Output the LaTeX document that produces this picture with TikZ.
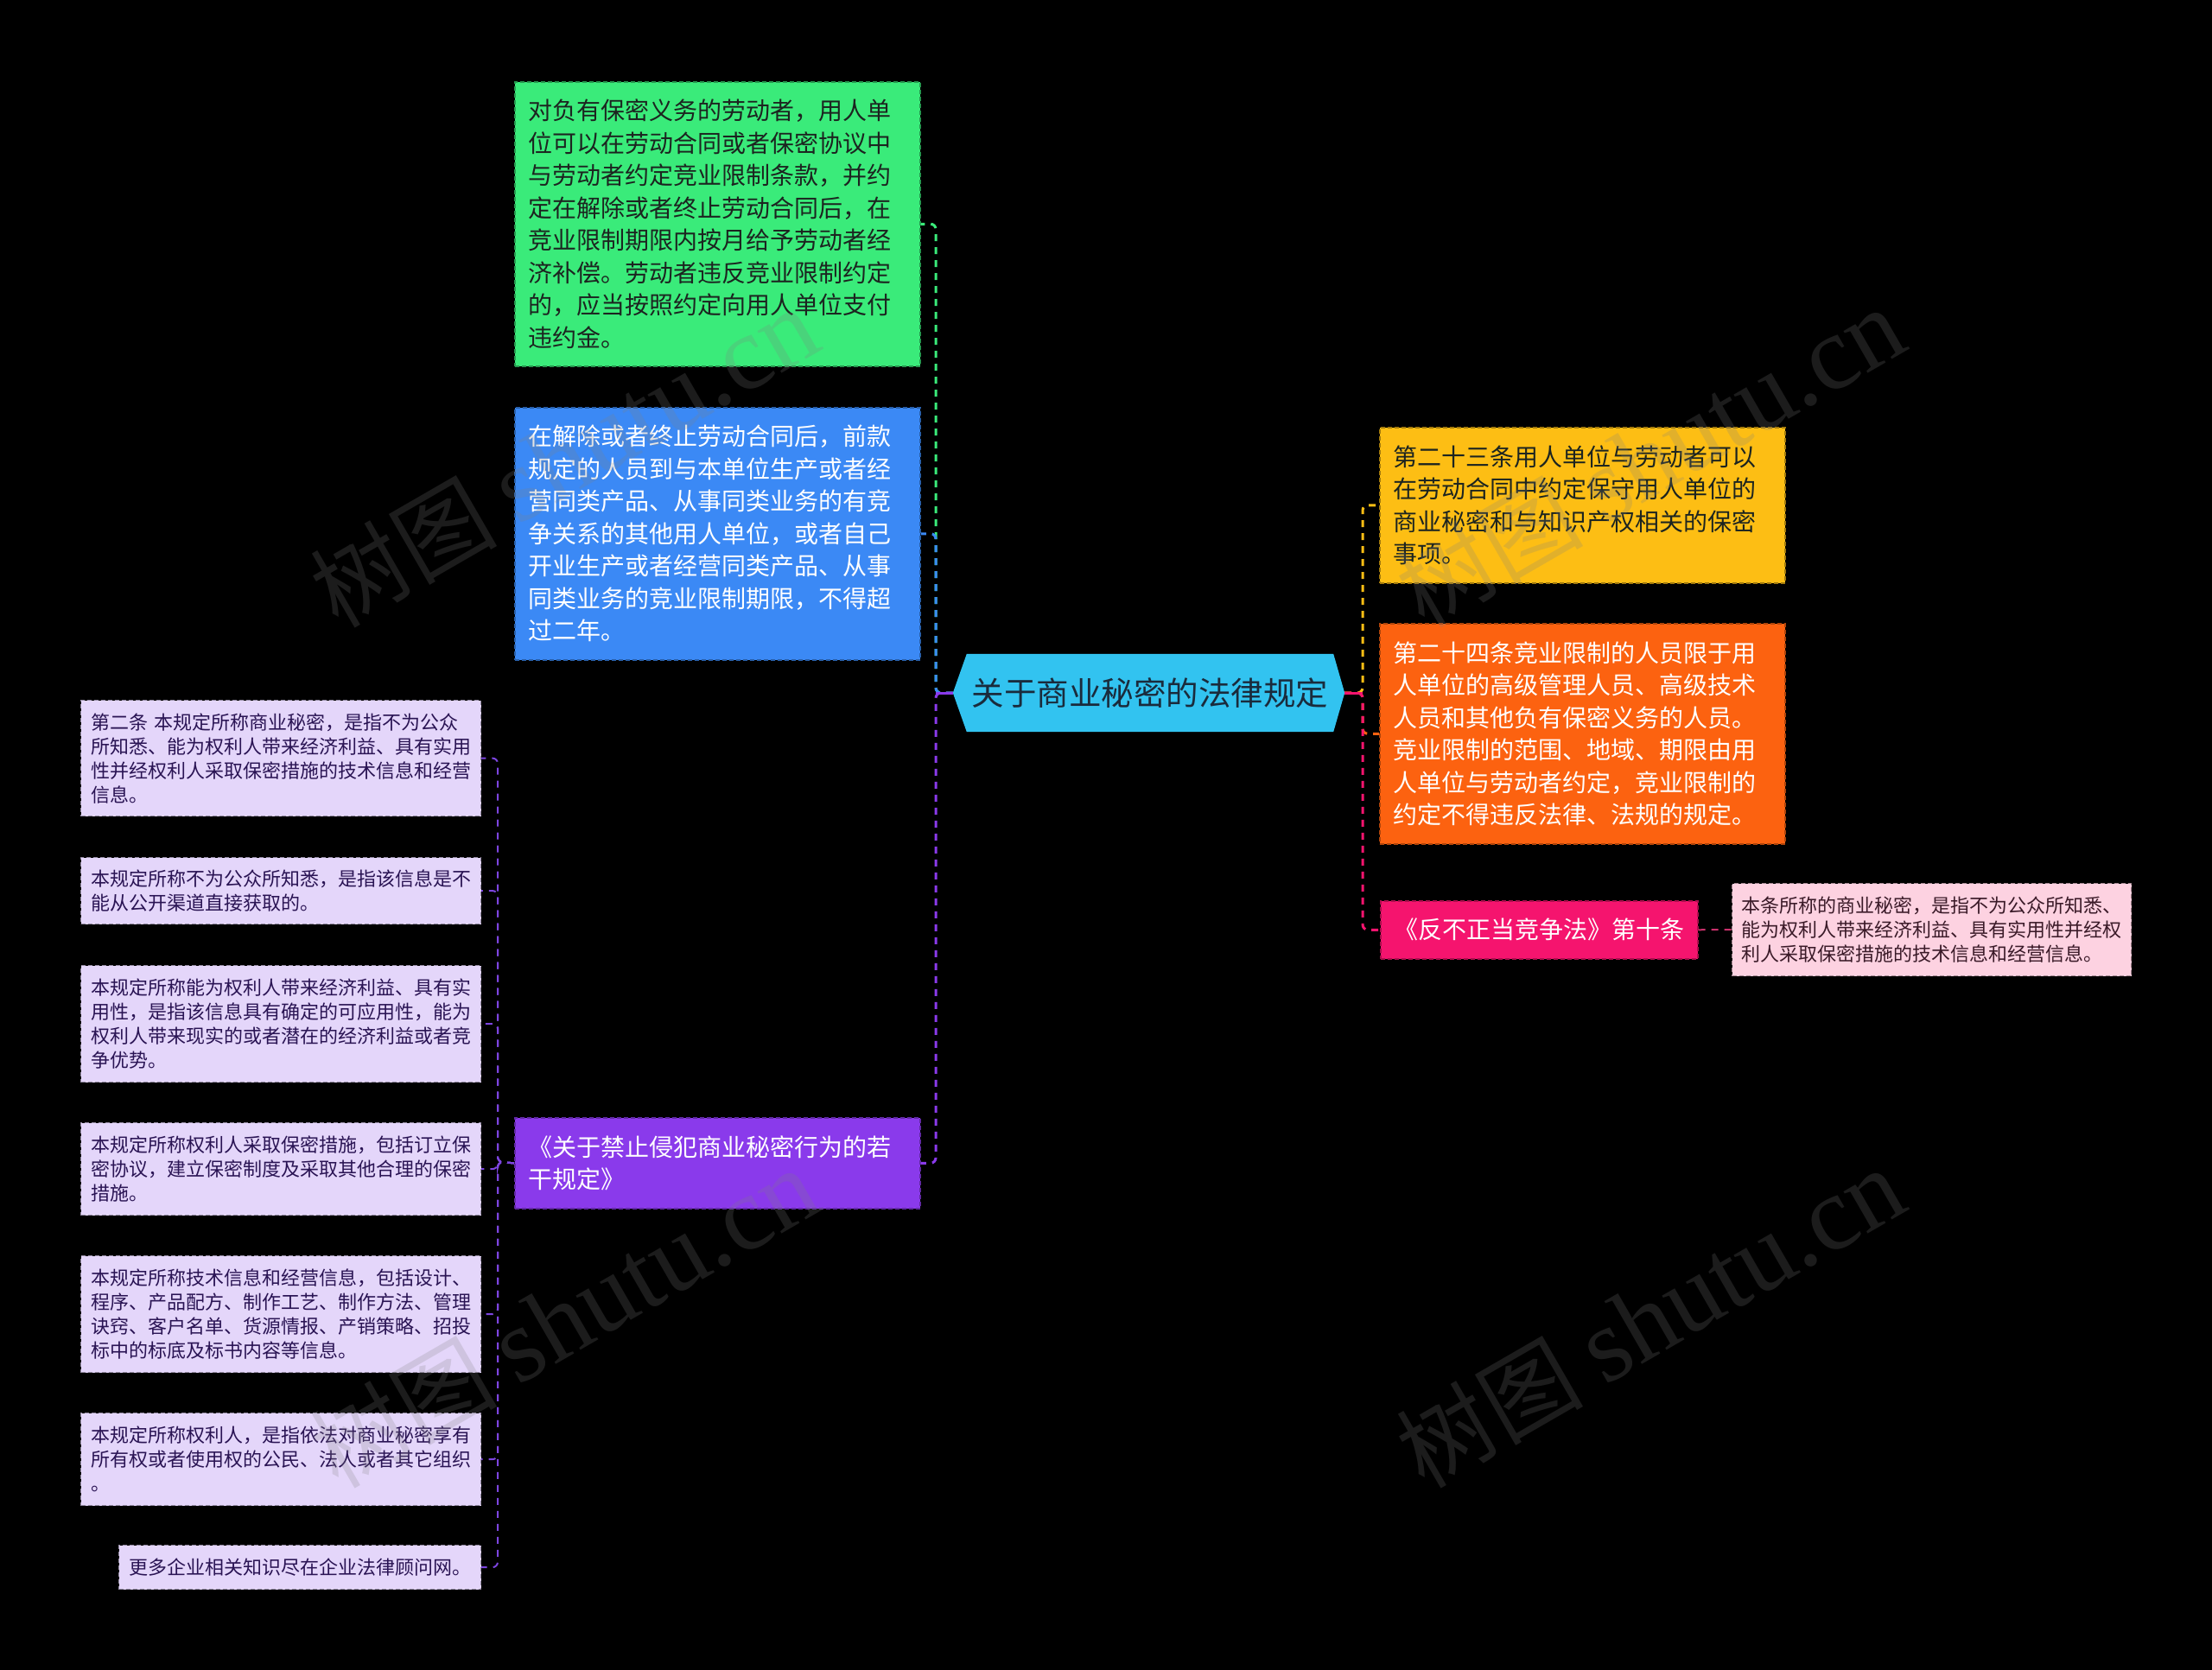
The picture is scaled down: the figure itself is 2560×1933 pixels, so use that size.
\documentclass[tikz,border=0pt]{standalone}
\usepackage{fontspec}
\setmainfont{Noto Sans CJK SC}
\newfontfamily\wmlatin{Liberation Serif}
\usetikzlibrary{calc,backgrounds}
\definecolor{greenc}{HTML}{3AEB7A}
\definecolor{bluec}{HTML}{3B89F5}
\definecolor{centralc}{HTML}{32C3F0}
\definecolor{centraltext}{HTML}{1A2B3C}
\definecolor{yellowc}{HTML}{FDBE14}
\definecolor{orangec}{HTML}{FC6210}
\definecolor{pinkc}{HTML}{F5146E}
\definecolor{lpinkc}{HTML}{FDD2E1}
\definecolor{purplec}{HTML}{8A3AEB}
\definecolor{lavc}{HTML}{E4D6FA}
\definecolor{spinec}{HTML}{7D45E0}
\definecolor{darktext}{HTML}{1C2420}
\definecolor{lavtext}{HTML}{2A1454}
\definecolor{lpinktext}{HTML}{3A1A28}
\definecolor{pinkline}{HTML}{C8306A}
\tikzset{
  lone/.style={anchor=north west, inner xsep=16pt, inner ysep=0pt, align=left,
    text width=437pt, minimum width=469pt,
    font=\fontsize{28}{37.5}\selectfont, line width=1.5pt, dash pattern=on 5pt off 3pt},
  ltwo/.style={anchor=north west, inner xsep=11.5pt, inner ysep=0pt, align=left,
    text width=440pt, minimum width=463pt, fill=lavc, draw=lavc!65!black, text=lavtext,
    font=\fontsize{22}{28}\selectfont, line width=1.2pt, dash pattern=on 5pt off 3pt},
  conn/.style={line width=3pt, dash pattern=on 8pt off 7pt, rounded corners=6pt},
  wmark/.style={rotate=30, text=gray, opacity=0.22, font=\fontsize{108}{108}\selectfont}
}
\begin{document}
\begin{tikzpicture}[x=1pt,y=-1pt]
\useasboundingbox (0,0) rectangle (2560,1933);
\begin{scope}[on background layer]
\fill[black] (0,0) rectangle (2560,1933);
\end{scope}

% central node
\node[font=\fontsize{37.5}{45}\selectfont, text=centraltext, minimum width=424pt, minimum height=90pt, inner sep=0pt] (c) at (1331,802) {关于商业秘密的法律规定};
\coordinate (cL) at ($(c.west)+(-16,0)$);
\coordinate (cR) at ($(c.east)+(13,0)$);
\begin{scope}[on background layer]
\fill[centralc] (cL) -- (c.north west) -- (c.north east) -- (cR) -- (c.south east) -- (c.south west) -- cycle;
\end{scope}

% left level-1 nodes
\node[lone, fill=greenc, draw=greenc!65!black, text=darktext, minimum height=329pt] (g) at (595,94) {对负有保密义务的劳动者，用人单\\位可以在劳动合同或者保密协议中\\与劳动者约定竞业限制条款，并约\\定在解除或者终止劳动合同后，在\\竞业限制期限内按月给予劳动者经\\济补偿。劳动者违反竞业限制约定\\的，应当按照约定向用人单位支付\\违约金。};
\node[lone, fill=bluec, draw=bluec!70!black, text=white, minimum height=292pt] (b) at (595,471) {在解除或者终止劳动合同后，前款\\规定的人员到与本单位生产或者经\\营同类产品、从事同类业务的有竞\\争关系的其他用人单位，或者自己\\开业生产或者经营同类产品、从事\\同类业务的竞业限制期限，不得超\\过二年。};
\node[lone, fill=purplec, draw=purplec!70!black, text=white, minimum height=105pt] (pm) at (595,1293) {《关于禁止侵犯商业秘密行为的若\\干规定》};

% right level-1 nodes
\node[lone, fill=yellowc, draw=yellowc!65!black, text=darktext, minimum height=180pt] (y) at (1596,494) {第二十三条用人单位与劳动者可以\\在劳动合同中约定保守用人单位的\\商业秘密和与知识产权相关的保密\\事项。};
\node[lone, fill=orangec, draw=orangec!70!black, text=white, minimum height=255pt] (o) at (1596,721) {第二十四条竞业限制的人员限于用\\人单位的高级管理人员、高级技术\\人员和其他负有保密义务的人员。\\竞业限制的范围、地域、期限由用\\人单位与劳动者约定，竞业限制的\\约定不得违反法律、法规的规定。};
\node[anchor=north west, fill=pinkc, draw=pinkc!70!black, line width=1.5pt, dash pattern=on 5pt off 3pt, text=white, font=\fontsize{28}{37.5}\selectfont, minimum width=367pt, minimum height=67pt, inner sep=0pt] (pk) at (1597,1042) {《反不正当竞争法》第十条};
\node[ltwo, fill=lpinkc, draw=lpinkc!65!black, text=lpinktext, text width=440pt, inner xsep=11pt, minimum width=462pt, minimum height=107pt] (lp) at (2004,1022) {本条所称的商业秘密，是指不为公众所知悉、\\能为权利人带来经济利益、具有实用性并经权\\利人采取保密措施的技术信息和经营信息。};

% left level-2 nodes
\node[ltwo, minimum height=134pt] (l1) at (93,810) {第二条 本规定所称商业秘密，是指不为公众\\所知悉、能为权利人带来经济利益、具有实用\\性并经权利人采取保密措施的技术信息和经营\\信息。};
\node[ltwo, minimum height=77pt] (l2) at (93,992) {本规定所称不为公众所知悉，是指该信息是不\\能从公开渠道直接获取的。};
\node[ltwo, minimum height=135pt] (l3) at (93,1117) {本规定所称能为权利人带来经济利益、具有实\\用性，是指该信息具有确定的可应用性，能为\\权利人带来现实的或者潜在的经济利益或者竞\\争优势。};
\node[ltwo, minimum height=107pt] (l4) at (93,1299) {本规定所称权利人采取保密措施，包括订立保\\密协议，建立保密制度及采取其他合理的保密\\措施。};
\node[ltwo, minimum height=135pt] (l5) at (93,1453) {本规定所称技术信息和经营信息，包括设计、\\程序、产品配方、制作工艺、制作方法、管理\\诀窍、客户名单、货源情报、产销策略、招投\\标中的标底及标书内容等信息。};
\node[ltwo, minimum height=107pt] (l6) at (93,1635) {本规定所称权利人，是指依法对商业秘密享有\\所有权或者使用权的公民、法人或者其它组织\\。};
\node[ltwo, text width=396pt, minimum width=419pt, minimum height=51pt] (l7) at (137,1788) {更多企业相关知识尽在企业法律顾问网。};

% junctions
\coordinate (jL) at (1083,802);
\coordinate (jR) at (1577,802);
\coordinate (jP) at (576,1345);

% connectors left
\draw[conn, greenc] (cL) -- (jL) |- (g.east);
\draw[conn, bluec] (cL) -- (jL) |- (b.east);
\draw[conn, purplec] (cL) -- (jL) |- (pm.east);
\draw[line width=3pt, purplec] (cL) -- (jL);
% connectors right
\draw[conn, yellowc] (cR) -- (jR) |- (y.west);
\draw[conn, orangec] (cR) -- (jR) |- (o.west);
\draw[conn, pinkc] (cR) -- (jR) |- (pk.west);
\draw[line width=3pt, pinkc] (cR) -- (jR);
\draw[conn, pinkline, line width=2pt] (pk.east) -- (lp.west);
% purple spine
\foreach \n in {l1,l2,l3,l4,l5,l6,l7}{
  \draw[conn, spinec, line width=2pt] (pm.west) -- (jP) |- (\n.east);
}

% watermarks
\node[wmark] (w1) at (653,530) {树图 {\wmlatin\fontsize{122}{122}\selectfont shutu.cn}};
\node[wmark] (w2) at (653,1526) {树图 {\wmlatin\fontsize{122}{122}\selectfont shutu.cn}};
\node[wmark] (w3) at (1910,1526) {树图 {\wmlatin\fontsize{122}{122}\selectfont shutu.cn}};
\node[wmark] (w4) at (1910,530) {树图 {\wmlatin\fontsize{122}{122}\selectfont shutu.cn}};
\end{tikzpicture}
\end{document}
